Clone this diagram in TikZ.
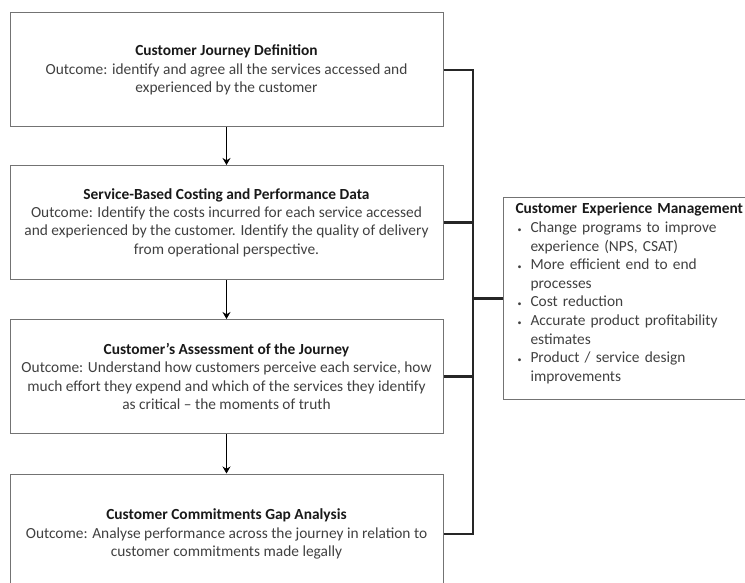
\documentclass[tikz,border=0pt]{standalone}
\usepackage{fontspec}
\setmainfont{Carlito}
\usetikzlibrary{arrows.meta}
\usetikzlibrary{calc}

\newcommand{\stagetitle}[1]{{\bfseries\color{black!90}#1}}
\newcommand{\cemitem}{\makebox[15pt][l]{\hspace{2pt}\raisebox{0.5pt}{\footnotesize\textbullet}}}

\begin{document}
\begin{tikzpicture}[x=1pt, y=-1pt,
    stage/.style={rectangle, draw=black!55, line width=1pt, minimum width=433pt, minimum height=114pt,
      align=center, text=black!75, font=\fontsize{15.4}{18.3}\selectfont},
    link/.style={line width=2.2pt, black!85},
    flow/.style={line width=1.8pt, -{Stealth[length=7pt, width=8pt]}}]
      \useasboundingbox (0,0) rectangle (745,583);
      \clip (0,0) rectangle (745,583);

      \node[stage] (def) at (226.5, 70) {\stagetitle{Customer Journey Definition}\\
        Outcome: identify and agree all the services accessed and\\experienced by the customer};
      \node[stage] (cost) at (226.5, 222.5) {\stagetitle{Service-Based Costing and Performance Data}\\
        Outcome: Identify the costs incurred for each service accessed\\
        and experienced by the customer. Identify the quality of delivery\\from operational perspective.};
      \node[stage] (assess) at (226.5, 376.5) {\stagetitle{Customer’s Assessment of the Journey}\\
        Outcome: Understand how customers perceive each service, how\\
        much effort they expend and which of the services they identify\\as critical – the moments of truth};
      \node[stage, minimum height=120pt] (gap) at (226.5, 534) {\stagetitle{Customer Commitments Gap Analysis}\\
        Outcome: Analyse performance across the journey in relation to\\customer commitments made legally};

      \node[rectangle, draw=black!55, line width=1pt, anchor=north west, inner xsep=12pt, text width=236pt,
        minimum height=202pt, align=left, text=black!75, font=\fontsize{15.4}{18.6}\selectfont] (cem) at (503, 197) {%
        \stagetitle{Customer Experience Management}\\
        \cemitem Change programs to improve\\
        \hspace*{15pt}experience (NPS, CSAT)\\
        \cemitem More efficient end to end\\
        \hspace*{15pt}processes\\
        \cemitem Cost reduction\\
        \cemitem Accurate product profitability\\
        \hspace*{15pt}estimates\\
        \cemitem Product / service design\\
        \hspace*{15pt}improvements\\[-6pt]\mbox{}};

      \draw[flow] (def) -- (cost);
      \draw[flow] (cost) -- (assess);
      \draw[flow] (assess) -- (gap);

      \coordinate (bus) at (473, 0);
      \draw[link] (def.east) -- (def.east -| bus) -- (gap.east -| bus) -- (gap.east);
      \draw[link] (cost.east) -- (cost.east -| bus);
      \draw[link] (assess.east) -- (assess.east -| bus);
      \draw[link] (bus |- cem.west) -- (cem.west);
    \end{tikzpicture}
\end{document}
